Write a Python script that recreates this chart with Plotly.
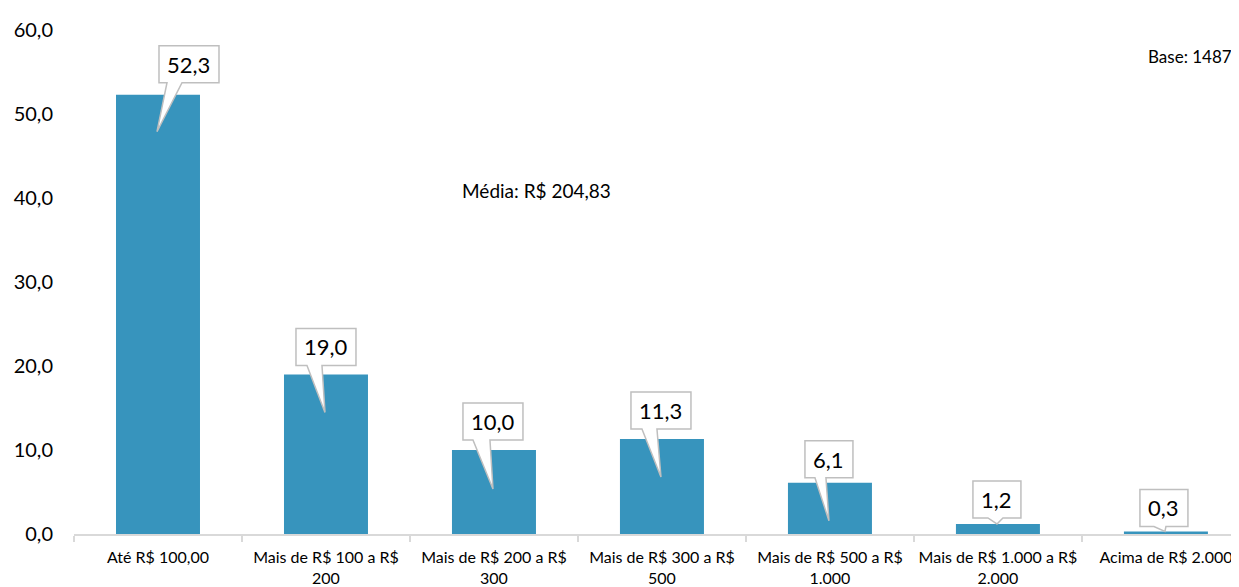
import plotly.graph_objects as go

categories = [
    "Até R$ 100,00",
    "Mais de R$ 100 a R$<br>200",
    "Mais de R$ 200 a R$<br>300",
    "Mais de R$ 300 a R$<br>500",
    "Mais de R$ 500 a R$<br>1.000",
    "Mais de R$ 1.000 a R$<br>2.000",
    "Acima de R$ 2.000",
]
values = [52.3, 19.0, 10.0, 11.3, 6.1, 1.2, 0.3]
y_ticks = [0, 10, 20, 30, 40, 50, 60]
media_text = "Média: R$ 204,83"
base_text = "Base: 1487"

BAR_COLOR = "#3794BD"
FONT = "Lato"

# callout geometry in pixels, relative to the top centre of each bar
box_dx = [31, 0, -1, -1, -1, -1, -2]      # box centre offset
box_bottom = [12, 9, 10, 10, 5, 6, 5]     # box bottom above bar top
box_h = 37
tip_dy = [-37, -38, -39, -38, -38, 0, 0]  # pointer tip
wedge = [(9, 24), (-19, -4), (-21, -4), (-20, -5), (-15, -4), (-10, 5), (-12, 0)]


def fmt(v):
    return f"{v:.1f}".replace(".", ",")


x = list(range(len(categories)))

fig = go.Figure(
    go.Bar(
        x=x,
        y=values,
        marker_color=BAR_COLOR,
        marker_line_width=0,
        hovertemplate="%{y:.1f}<extra></extra>",
    )
)

shapes = []
annotations = []
for i, v in enumerate(values):
    label = fmt(v)
    w = 60 if len(label) > 3 else 48
    left = box_dx[i] - w / 2
    right = box_dx[i] + w / 2
    bot = box_bottom[i]
    top = bot + box_h
    wl, wr = wedge[i]
    path = (
        f"M {left},{top} L {right},{top} L {right},{bot} L {wr},{bot} "
        f"L -1,{tip_dy[i]} L {wl},{bot} L {left},{bot} Z"
    )
    shapes.append(
        dict(
            type="path",
            xref="x",
            yref="y",
            xsizemode="pixel",
            ysizemode="pixel",
            xanchor=i,
            yanchor=v,
            path=path,
            fillcolor="white",
            line=dict(color="#BFBFBF", width=1.5),
            layer="above",
        )
    )
    annotations.append(
        dict(
            x=i,
            y=v,
            xref="x",
            yref="y",
            text=label,
            showarrow=False,
            xshift=box_dx[i],
            yshift=bot + box_h / 2,
            font=dict(family=FONT, size=22, color="black"),
        )
    )

annotations.append(
    dict(
        x=0.397, y=0.682, xref="paper", yref="paper", text=media_text,
        xanchor="center", yanchor="middle", showarrow=False,
        font=dict(family=FONT, size=19, color="black"),
    )
)
annotations.append(
    dict(
        x=0.92, y=0.948, xref="paper", yref="paper", text=base_text,
        xanchor="left", yanchor="middle", showarrow=False,
        font=dict(family=FONT, size=17, color="black"),
    )
)

# the page body adds an 8px offset, so the figure is 8px smaller than the window
fig.update_layout(
    width=1231,
    height=579,
    margin=dict(l=66, r=0, t=22, b=53),
    paper_bgcolor="white",
    plot_bgcolor="white",
    bargap=0.5,
    showlegend=False,
    shapes=shapes,
    annotations=annotations,
    font=dict(family=FONT, color="black"),
)
fig.update_xaxes(
    range=[-0.5, 6.435],
    tickvals=x,
    ticktext=categories,
    ticks="",
    automargin=False,
    ticklabelstandoff=8,
    showline=True,
    linecolor="#D9D9D9",
    linewidth=1.5,
    showgrid=False,
    zeroline=False,
    tickfont=dict(family=FONT, size=16, color="black"),
    minor=dict(
        tickvals=[i - 0.5 for i in range(len(categories) + 1)],
        ticks="outside",
        ticklen=6,
        tickcolor="#D9D9D9",
        tickwidth=1.5,
    ),
)
fig.update_yaxes(
    range=[0, 60],
    tickvals=y_ticks,
    ticktext=[fmt(t) for t in y_ticks],
    automargin=False,
    showgrid=False,
    zeroline=False,
    showline=False,
    ticks="",
    ticklabelstandoff=20,
    tickfont=dict(family=FONT, size=20, color="black"),
)

fig.write_html("out.html")
